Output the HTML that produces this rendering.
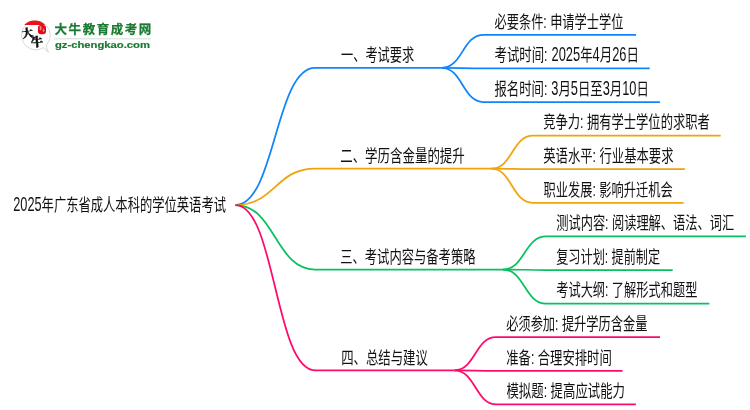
<!DOCTYPE html>
<html lang="zh-CN"><head><meta charset="utf-8"><title>2025年广东省成人本科的学位英语考试</title>
<style>
html,body{margin:0;padding:0;background:#fff;}
body{width:750px;height:410px;overflow:hidden;position:relative;}
svg{position:absolute;left:0;top:0;display:block;will-change:transform;}
.mm .t text{font-family:"Liberation Sans","Noto Sans CJK SC",sans-serif;font-size:17.5px;fill:#111;}
.mm .p path{fill:none;stroke-width:1.75;stroke-linecap:butt;stroke-linejoin:round;}
</style></head><body>
<svg class="mm" width="750" height="410" viewBox="0 0 750 410">
<g class="p">
<path d="M235.5,205.0C275.2,205.0 275.2,67.9 315.0,67.9H441.7" stroke="#1085fa"/>
<path d="M441.7,67.9C462.6,67.9 462.6,34.8 483.5,34.8H636.1" stroke="#1085fa"/>
<path d="M441.7,67.9C462.6,67.9 462.6,68.4 483.5,68.4H649.7" stroke="#1085fa"/>
<path d="M441.7,67.9C462.6,67.9 462.6,102.0 483.5,102.0H659.9" stroke="#1085fa"/>
<path d="M235.5,205.0C275.2,205.0 275.2,168.7 315.0,168.7H491.5" stroke="#f0a30a"/>
<path d="M491.5,168.7C512.2,168.7 512.2,135.6 533.0,135.6H720.7" stroke="#f0a30a"/>
<path d="M491.5,168.7C512.2,168.7 512.2,169.2 533.0,169.2H684.9" stroke="#f0a30a"/>
<path d="M491.5,168.7C512.0,168.7 512.0,202.8 532.6,202.8H683.7" stroke="#f0a30a"/>
<path d="M235.5,205.0C275.2,205.0 275.2,269.5 315.0,269.5H503.0" stroke="#07c160"/>
<path d="M503.0,269.5C524.5,269.5 524.5,236.4 546.0,236.4H745.9" stroke="#07c160"/>
<path d="M503.0,269.5C524.5,269.5 524.5,270.0 546.0,270.0H672.7" stroke="#07c160"/>
<path d="M503.0,269.5C524.5,269.5 524.5,303.6 546.0,303.6H709.3" stroke="#07c160"/>
<path d="M235.5,205.0C275.2,205.0 275.2,370.3 315.0,370.3H454.5" stroke="#ff0a6c"/>
<path d="M454.5,370.3C475.2,370.3 475.2,337.2 496.0,337.2H660.0" stroke="#ff0a6c"/>
<path d="M454.5,370.3C475.2,370.3 475.2,370.8 496.0,370.8H622.5" stroke="#ff0a6c"/>
<path d="M454.5,370.3C475.4,370.3 475.4,404.4 496.4,404.4H635.9" stroke="#ff0a6c"/>
</g>
<g class="t">
<text x="341.00" y="61.1" textLength="73.20" lengthAdjust="spacingAndGlyphs">一、考试要求</text>
<text x="494.50" y="27.5" textLength="128.90" lengthAdjust="spacingAndGlyphs">必要条件: 申请学士学位</text>
<text y="61.1"><tspan x="494.50" textLength="53.02" lengthAdjust="spacingAndGlyphs">考试时间:</tspan> <tspan x="551.55" textLength="28.63" lengthAdjust="spacingAndGlyphs" style="font-size:21.0px">2025</tspan><tspan x="580.18" textLength="12.40" lengthAdjust="spacingAndGlyphs">年</tspan><tspan x="592.57" textLength="7.16" lengthAdjust="spacingAndGlyphs" style="font-size:21.0px">4</tspan><tspan x="599.73" textLength="12.40" lengthAdjust="spacingAndGlyphs">月</tspan><tspan x="612.13" textLength="14.31" lengthAdjust="spacingAndGlyphs" style="font-size:21.0px">26</tspan><tspan x="626.44" textLength="12.40" lengthAdjust="spacingAndGlyphs">日</tspan></text>
<text y="94.7"><tspan x="494.50" textLength="52.85" lengthAdjust="spacingAndGlyphs">报名时间:</tspan> <tspan x="551.37" textLength="7.13" lengthAdjust="spacingAndGlyphs" style="font-size:21.0px">3</tspan><tspan x="558.51" textLength="12.36" lengthAdjust="spacingAndGlyphs">月</tspan><tspan x="570.87" textLength="7.13" lengthAdjust="spacingAndGlyphs" style="font-size:21.0px">5</tspan><tspan x="578.00" textLength="24.72" lengthAdjust="spacingAndGlyphs">日至</tspan><tspan x="602.72" textLength="7.13" lengthAdjust="spacingAndGlyphs" style="font-size:21.0px">3</tspan><tspan x="609.85" textLength="12.36" lengthAdjust="spacingAndGlyphs">月</tspan><tspan x="622.21" textLength="14.27" lengthAdjust="spacingAndGlyphs" style="font-size:21.0px">10</tspan><tspan x="636.48" textLength="12.36" lengthAdjust="spacingAndGlyphs">日</tspan></text>
<text x="340.20" y="161.9" textLength="124.60" lengthAdjust="spacingAndGlyphs">二、学历含金量的提升</text>
<text x="543.20" y="128.3" textLength="166.60" lengthAdjust="spacingAndGlyphs">竞争力: 拥有学士学位的求职者</text>
<text x="543.20" y="161.9" textLength="130.36" lengthAdjust="spacingAndGlyphs">英语水平: 行业基本要求</text>
<text x="543.60" y="195.5" textLength="129.20" lengthAdjust="spacingAndGlyphs">职业发展: 影响升迁机会</text>
<text x="340.20" y="262.7" textLength="135.30" lengthAdjust="spacingAndGlyphs">三、考试内容与备考策略</text>
<text x="556.20" y="229.1" textLength="178.06" lengthAdjust="spacingAndGlyphs">测试内容: 阅读理解、语法、词汇</text>
<text x="556.20" y="262.7" textLength="104.00" lengthAdjust="spacingAndGlyphs">复习计划: 提前制定</text>
<text x="556.20" y="296.3" textLength="141.24" lengthAdjust="spacingAndGlyphs">考试大纲: 了解形式和题型</text>
<text x="341.18" y="363.5" textLength="86.62" lengthAdjust="spacingAndGlyphs">四、总结与建议</text>
<text x="506.20" y="329.9" textLength="141.30" lengthAdjust="spacingAndGlyphs">必须参加: 提升学历含金量</text>
<text x="506.20" y="363.5" textLength="105.62" lengthAdjust="spacingAndGlyphs">准备: 合理安排时间</text>
<text x="506.44" y="397.1" textLength="118.60" lengthAdjust="spacingAndGlyphs">模拟题: 提高应试能力</text>
<text y="211.2"><tspan x="13.20" textLength="28.39" lengthAdjust="spacingAndGlyphs" style="font-size:21.0px">2025</tspan><tspan x="41.59" textLength="184.41" lengthAdjust="spacingAndGlyphs">年广东省成人本科的学位英语考试</tspan></text>
</g>
<g class="logo">
<!-- speech bubble -->
<path d="M35.8,21.0 A14.4,14.4 0 1 0 43.6,47.6 Q46.0,50.6 48.6,52.4 Q46.6,49.2 46.3,45.2 A14.4,14.4 0 0 0 35.8,21.0 Z" fill="#fff" stroke="#d4d4d4" stroke-width="0.9"/>
<!-- red cap -->
<path d="M24.2,25.0 A14.6,14.6 0 0 1 45.2,25.0 Z" fill="#e8121c"/>
<!-- seal -->
<rect x="37.9" y="24.9" width="8.1" height="9.4" rx="3.2" fill="#e00a16"/>
<path d="M39.4,27.0h2.6M39.2,28.8h3.0M40.6,26.2v4.2M43.6,28.4v3.6M42.4,30.6h2.4" stroke="#fff" stroke-opacity="0.6" stroke-width="0.7" fill="none"/>
<text x="21.8" y="37.3" font-size="11.3" fill="#111" transform="rotate(-8 27 33)" style="font-family:'Liberation Serif','Noto Serif CJK SC',serif;font-weight:900;stroke:#111;stroke-width:0.35">大</text>
<text x="31.0" y="46.4" font-size="12.2" fill="#111" transform="rotate(-4 37 42)" style="font-family:'Liberation Serif','Noto Serif CJK SC',serif;font-weight:900;stroke:#111;stroke-width:0.45">牛</text>
<!-- site name -->
<text x="54.6" y="34.0" font-size="12.5" fill="#1a7a31" stroke="#1a7a31" stroke-width="0.25" textLength="96.6" lengthAdjust="spacing" style="font-family:'Liberation Sans','Noto Sans CJK SC',sans-serif;font-weight:700">大牛教育成考网</text>
<rect x="54" y="38.4" width="97" height="0.9" fill="#c9dccb"/>
<text x="55.0" y="48.0" font-size="9.3" fill="#1a7a31" stroke="#1a7a31" stroke-width="0.2" textLength="95" lengthAdjust="spacingAndGlyphs" style="font-family:'Liberation Sans',sans-serif;font-weight:700">gz-chengkao.com</text>
</g>

</svg>
</body></html>
